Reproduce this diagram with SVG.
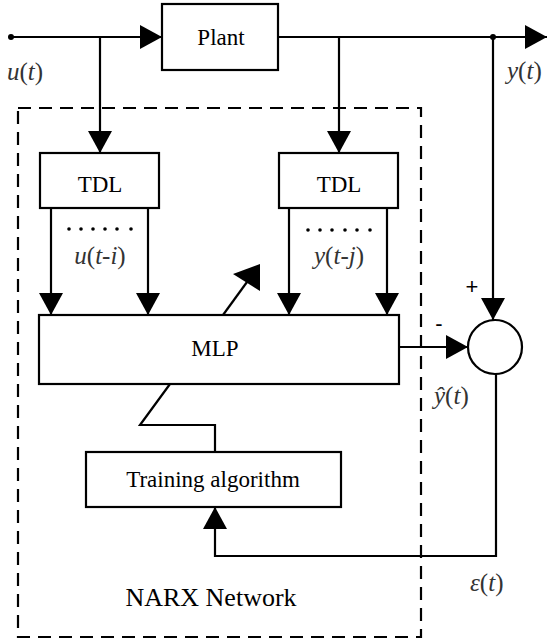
<svg xmlns="http://www.w3.org/2000/svg" width="553" height="644" viewBox="0 0 553 644">
<style>
.box{fill:#fff;stroke:#000;stroke-width:2.2}
.ln{fill:none;stroke:#000;stroke-width:2.2}
.dash{fill:none;stroke:#000;stroke-width:2.2;stroke-dasharray:13 8}
.t{font-family:'Liberation Serif','DejaVu Serif','Times New Roman',serif;font-size:23px;fill:#000;text-anchor:middle}
.m{font-family:'Liberation Serif','DejaVu Serif','Times New Roman',serif;font-size:25px;font-style:italic;fill:#333}
.up{font-style:normal}
.sg{font-family:'Liberation Sans',Arial,sans-serif;font-size:22px;fill:#000;text-anchor:middle}
</style>
<defs>
<marker id="ah" markerUnits="userSpaceOnUse" markerWidth="24" markerHeight="26" refX="22" refY="12" orient="auto" viewBox="0 0 24 26">
<path d="M0,0 L22,12 L0,24 z" fill="#000"/>
</marker>
</defs>
<rect class="dash" x="18" y="108" width="403" height="529"/>
<g id="connectors">
<circle cx="11" cy="37" r="3" fill="#000"/>
<circle cx="493" cy="37" r="3" fill="#000"/>
<line class="ln" x1="11" y1="37" x2="162" y2="37" marker-end="url(#ah)"/>
<line class="ln" x1="100" y1="37" x2="100" y2="153" marker-end="url(#ah)"/>
<line class="ln" x1="278" y1="37" x2="547" y2="37" marker-end="url(#ah)"/>
<line class="ln" x1="339" y1="37" x2="339" y2="153" marker-end="url(#ah)"/>
<line class="ln" x1="493" y1="37" x2="493" y2="320" marker-end="url(#ah)"/>
<line class="ln" x1="51" y1="208" x2="51" y2="315" marker-end="url(#ah)"/>
<line class="ln" x1="148" y1="208" x2="148" y2="315" marker-end="url(#ah)"/>
<line class="ln" x1="289" y1="208" x2="289" y2="315" marker-end="url(#ah)"/>
<line class="ln" x1="387" y1="208" x2="387" y2="315" marker-end="url(#ah)"/>
<line class="ln" x1="399" y1="347" x2="468" y2="347" marker-end="url(#ah)"/>
<line class="ln" x1="223" y1="315" x2="247" y2="282"/>
<polygon points="260,264 233,274 260,291" fill="#000"/>
<polyline class="ln" points="170,384 140,425 215,425 215,452"/>
<polyline class="ln" points="496,374 496,556 215,556 215,507" marker-end="url(#ah)"/>
</g>
<g id="plant">
<rect class="box" x="162" y="4" width="116" height="66"/>
<text class="t" x="221" y="45">Plant</text>
</g>
<g id="tdl-u">
<rect class="box" x="40" y="153" width="119" height="55"/>
<text class="t" x="100" y="192">TDL</text>
<g fill="#000"><circle cx="69" cy="229" r="1.8"/><circle cx="81" cy="229" r="1.8"/><circle cx="93" cy="229" r="1.8"/><circle cx="105" cy="229" r="1.8"/><circle cx="117" cy="229" r="1.8"/><circle cx="131" cy="229" r="1.8"/></g>
<text class="m" x="100" y="264" text-anchor="middle">u<tspan class="up">(</tspan>t<tspan class="up">-</tspan>i<tspan class="up">)</tspan></text>
</g>
<g id="tdl-y">
<rect class="box" x="279" y="153" width="119" height="55"/>
<text class="t" x="339" y="192">TDL</text>
<g fill="#000"><circle cx="308" cy="230" r="1.8"/><circle cx="320" cy="230" r="1.8"/><circle cx="332" cy="230" r="1.8"/><circle cx="345" cy="230" r="1.8"/><circle cx="357" cy="230" r="1.8"/><circle cx="370" cy="230" r="1.8"/></g>
<text class="m" x="339" y="264" text-anchor="middle">y<tspan class="up">(</tspan>t<tspan class="up">-</tspan>j<tspan class="up">)</tspan></text>
</g>
<g id="mlp">
<rect class="box" x="39" y="315" width="360" height="69"/>
<text class="t" x="215" y="356">MLP</text>
</g>
<g id="training">
<rect class="box" x="86" y="452" width="255" height="55"/>
<text class="t" x="213" y="487">Training algorithm</text>
</g>
<g id="sum">
<circle cx="495" cy="347" r="27" fill="#fff" stroke="#000" stroke-width="2.2"/>
<text class="sg" x="472" y="294">+</text>
<text class="sg" x="439" y="331">-</text>
</g>
<g id="labels">
<text class="m" x="7" y="80">u<tspan class="up">(</tspan>t<tspan class="up">)</tspan></text>
<text class="m" x="507" y="79">y<tspan class="up">(</tspan>t<tspan class="up">)</tspan></text>
<text class="m" x="434" y="404">ŷ<tspan class="up">(</tspan>t<tspan class="up">)</tspan></text>
<text class="m" x="470" y="591">ε<tspan class="up">(</tspan>t<tspan class="up">)</tspan></text>
<text class="t" x="211" y="606" style="font-size:26px">NARX Network</text>
</g>
</svg>
